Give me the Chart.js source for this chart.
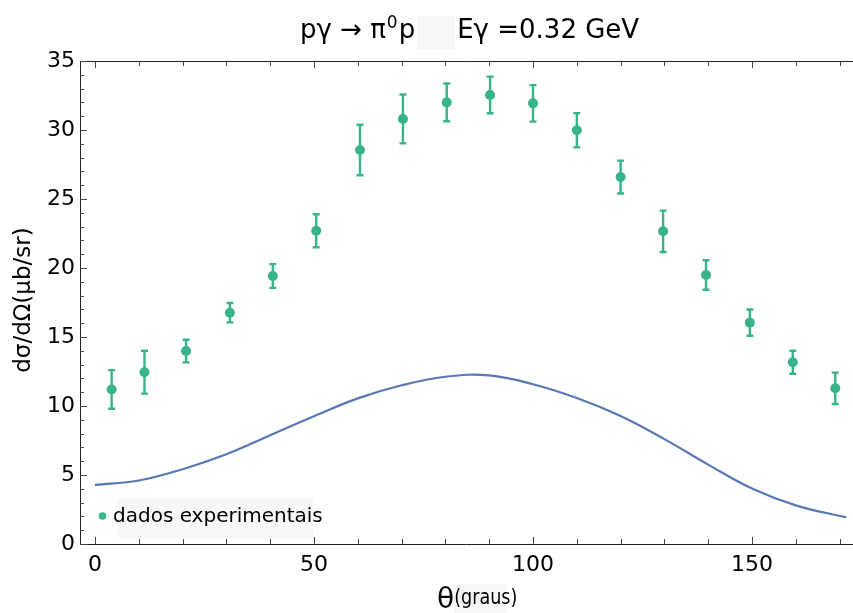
<!DOCTYPE html>
<html>
<head>
<meta charset="utf-8">
<script src="https://cdn.jsdelivr.net/npm/chart.js@4.4.1/dist/chart.umd.min.js"></script>
<style>
  html, body { margin: 0; padding: 0; background: #fff }
  #wrap { width: 853px; height: 613px }
</style>
</head>
<body>
<div id="wrap"><canvas id="c" width="853" height="613"></canvas></div>
<script>
// experimental points (theta in degrees, dsigma/dOmega in microbarn/sr)
const angles       = [3.8, 11.3, 20.8, 30.8, 40.6, 50.5, 60.5, 70.3, 80.3, 90.2, 100, 110, 120, 129.7, 139.5, 149.5, 159.3, 169]
const crossSection = [11.2, 12.45, 13.98, 16.76, 19.42, 22.7, 28.55, 30.8, 32.0, 32.54, 31.93, 29.98, 26.59, 22.66, 19.49, 16.04, 13.17, 11.28]
const errors       = [1.4, 1.55, 0.82, 0.7, 0.86, 1.2, 1.83, 1.77, 1.37, 1.33, 1.32, 1.24, 1.19, 1.5, 1.07, 0.95, 0.83, 1.14]

// model curve
const curveAngles = [0, 10, 20, 30, 40, 50, 60, 70, 80, 90, 100, 110, 120, 130, 140, 150, 160, 171.5]
const curveValues = [4.28, 4.6, 5.42, 6.5, 7.88, 9.25, 10.55, 11.5, 12.12, 12.22, 11.58, 10.58, 9.27, 7.6, 5.75, 4.02, 2.8, 1.93]

const xTicks = [0, 50, 100, 150]
const yTicks = [0, 5, 10, 15, 20, 25, 30, 35]

const GREEN = '#38b48b'
const BLUE  = '#5878b4'
const FONT  = "'DejaVu Sans', sans-serif"

const errorBars = {
  id: 'errorBars',
  afterDatasetsDraw(chart) {
    const { ctx, scales: { x, y } } = chart
    ctx.save()
    ctx.strokeStyle = GREEN
    ctx.lineWidth = 2.4
    angles.forEach((a, i) => {
      const px = x.getPixelForValue(a)
      const top = y.getPixelForValue(crossSection[i] + errors[i])
      const bot = y.getPixelForValue(crossSection[i] - errors[i])
      ctx.beginPath()
      ctx.moveTo(px, top); ctx.lineTo(px, bot)
      ctx.moveTo(px - 3.5, top); ctx.lineTo(px + 3.5, top)
      ctx.moveTo(px - 3.5, bot); ctx.lineTo(px + 3.5, bot)
      ctx.stroke()
    })
    ctx.restore()
  }
}

const frame = {
  id: 'frame',
  afterDraw(chart) {
    const { ctx, chartArea: a, scales: { x, y } } = chart
    ctx.save()
    ctx.strokeStyle = '#222'
    ctx.lineWidth = 1
    ctx.beginPath()
    ctx.moveTo(a.left + 0.5, a.top); ctx.lineTo(a.left + 0.5, a.bottom + 0.5)
    ctx.moveTo(a.left, a.bottom + 0.5); ctx.lineTo(a.right, a.bottom + 0.5)
    ctx.moveTo(a.left, a.top + 0.5); ctx.lineTo(a.right, a.top + 0.5)
    ctx.stroke()
    ctx.strokeStyle = '#444'
    ctx.beginPath()
    for (let v = 0; v <= 170; v += 10) {
      const px = Math.round(x.getPixelForValue(v)) + 0.5
      const len = v % 50 === 0 ? 7 : 5
      ctx.moveTo(px, a.bottom); ctx.lineTo(px, a.bottom - len)
      ctx.moveTo(px, a.top); ctx.lineTo(px, a.top + len)
    }
    for (let v = 0; v <= 35; v += 1) {
      const py = Math.round(y.getPixelForValue(v)) + 0.5
      const len = v % 5 === 0 ? 7 : 4
      ctx.moveTo(a.left, py); ctx.lineTo(a.left + len, py)
    }
    ctx.stroke()
    ctx.restore()
  }
}

const labels = {
  id: 'labels',
  afterDraw(chart) {
    const { ctx } = chart
    ctx.save()
    ctx.fillStyle = '#000'
    ctx.textBaseline = 'alphabetic'

    // title
    const big = '26px ' + FONT, sup = '17px ' + FONT
    const base = 38
    let tx = 300
    ctx.font = big
    ctx.fillText('pγ → π', tx, base); tx += ctx.measureText('pγ → π').width
    ctx.font = sup
    ctx.fillText('0', tx + 1, base - 10); tx += ctx.measureText('0').width + 2
    ctx.font = big
    ctx.fillText('p', tx, base); tx += ctx.measureText('p').width
    ctx.fillStyle = '#f6f6f6'
    ctx.fillRect(tx + 2, 16, 38, 33)
    ctx.fillStyle = '#000'
    tx += 42
    ctx.fillText('Eγ =0.32 GeV', tx, base)

    // x axis title
    ctx.font = '28px ' + FONT
    const wt = ctx.measureText('θ').width
    const gx = 437
    ctx.fillStyle = '#f6f6f6'
    ctx.fillRect(gx + wt, 584, 52, 29)
    ctx.fillStyle = '#000'
    ctx.fillText('θ', gx, 608)
    ctx.save()
    ctx.translate(gx + wt, 604)
    ctx.scale(0.88, 1.05)
    ctx.font = '20px ' + FONT
    ctx.fillText('(graus)', 0, 0)
    ctx.restore()

    // y axis title
    ctx.save()
    ctx.translate(24, 300)
    ctx.rotate(-Math.PI / 2)
    ctx.font = '23px ' + FONT
    ctx.textAlign = 'center'
    ctx.textBaseline = 'middle'
    ctx.fillText('dσ/dΩ(μb/sr)', 0, 0)
    ctx.restore()

    // legend
    ctx.fillStyle = '#f7f7f7'
    ctx.fillRect(118, 499, 195, 39)
    ctx.fillStyle = GREEN
    ctx.beginPath()
    ctx.arc(102.5, 516, 3.8, 0, Math.PI * 2)
    ctx.fill()
    ctx.fillStyle = '#000'
    ctx.font = '20px ' + FONT
    ctx.fillText('dados experimentais', 113, 522)
    ctx.restore()
  }
}

new Chart(document.getElementById('c'), {
  type: 'scatter',
  data: {
    datasets: [
      {
        type: 'line',
        label: 'modelo',
        data: curveAngles.map((a, i) => ({ x: a, y: curveValues[i] })),
        borderColor: BLUE,
        borderWidth: 2.2,
        pointRadius: 0,
        tension: 0.4,
        fill: false,
        order: 2
      },
      {
        label: 'dados experimentais',
        data: angles.map((a, i) => ({ x: a, y: crossSection[i] })),
        backgroundColor: GREEN,
        borderColor: GREEN,
        pointRadius: 5,
        pointBorderWidth: 0,
        order: 1
      }
    ]
  },
  options: {
    responsive: false,
    animation: false,
    devicePixelRatio: 1,
    layout: { autoPadding: false, padding: { top: 61, right: 0, left: 0, bottom: 0 } },
    plugins: { legend: { display: false }, title: { display: false }, tooltip: { enabled: false } },
    scales: {
      x: {
        type: 'linear',
        min: -3.42, max: 173.05,
        grid: { display: false, drawTicks: false },
        border: { display: false },
        ticks: { color: '#000', font: { family: FONT, size: 22 }, padding: 8, autoSkip: false, maxRotation: 0 },
        afterBuildTicks: s => { s.ticks = xTicks.map(v => ({ value: v })) },
        afterFit: s => { s.height = 69; s.paddingLeft = 0; s.paddingRight = 0 }
      },
      y: {
        min: 0, max: 35,
        grid: { display: false, drawTicks: false },
        border: { display: false },
        ticks: { color: '#000', font: { family: FONT, size: 22 }, padding: 5, autoSkip: false },
        afterBuildTicks: s => { s.ticks = yTicks.map(v => ({ value: v })) },
        afterFit: s => { s.width = 80; s.paddingTop = 0; s.paddingBottom = 0 }
      }
    }
  },
  plugins: [errorBars, frame, labels]
})
</script>
</body>
</html>
